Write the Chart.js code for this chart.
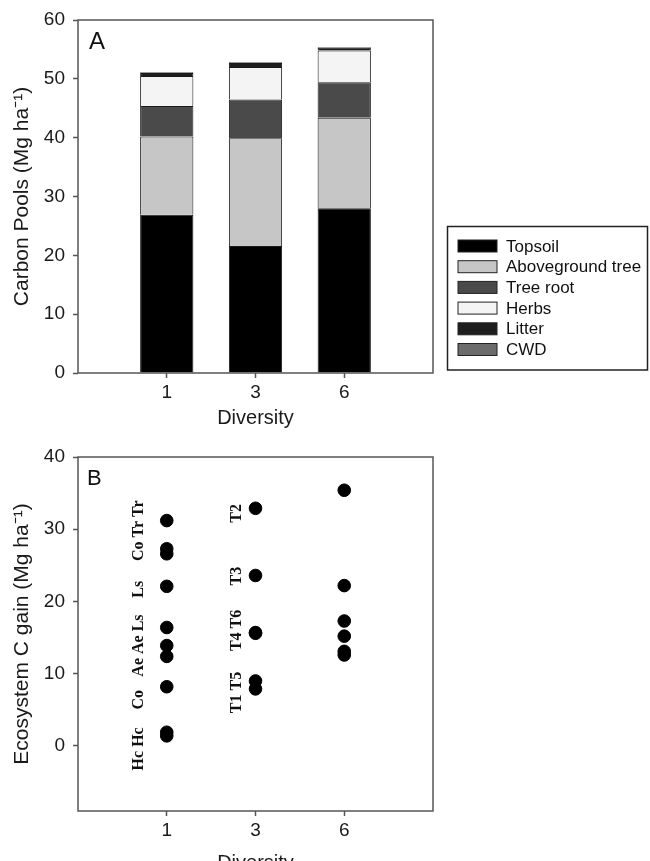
<!DOCTYPE html>
<html>
<head>
<meta charset="utf-8">
<script src="https://cdn.jsdelivr.net/npm/chart.js@4.4.1/dist/chart.umd.min.js"></script>
<style>
  html, body { margin: 0; padding: 0; background: #fff; overflow: hidden; }
  #wrap { position: relative; width: 650px; height: 861px; }
  canvas { position: absolute; left: 0; }
  #poolCanvas { top: 0; }
  #gainCanvas { top: 430px; }
</style>
</head>
<body>
<div id="wrap">
  <canvas id="poolCanvas" width="650" height="430"></canvas>
  <canvas id="gainCanvas" width="650" height="445"></canvas>
</div>
<script>
// diversity levels (x categories)
var diversity = ['1', '3', '6'];

// panel A: carbon pools, Mg/ha, stacked per diversity level
var poolNames = ['Topsoil', 'Aboveground tree', 'Tree root', 'Herbs', 'Litter', 'CWD'];
var topsoil = [26.9, 21.6, 28.0];
var aboveTree = [13.3, 18.3, 15.4];
var treeRoot = [5.2, 6.6, 6.0];
var herbs = [5.1, 5.5, 5.4];
var litter = [0.5, 0.7, 0.5];
var cwd = [0.1, 0.1, 0.1];
var poolTicks = [0, 10, 20, 30, 40, 50, 60];

// panel B: ecosystem C gain per plot
var gainDiv1 = [31.2, 27.3, 26.6, 22.1, 16.4, 13.9, 12.4, 8.2, 1.9, 1.4];
var gainDiv3 = [32.9, 23.6, 15.7, 15.6, 9.0, 7.9];
var gainDiv6 = [35.4, 22.2, 17.3, 15.2, 13.1, 12.6];
var gainTicks = [0, 10, 20, 30, 40];

// species / treatment labels next to the points
var plotLabels = ['Hc Hc', 'Co', 'Ae Ae Ls', 'Ls', 'Co Tr Tr', 'T1 T5', 'T4 T6', 'T3', 'T2'];
var plotLabelDiv = ['1', '1', '1', '1', '1', '3', '3', '3', '3'];
var plotLabelY = [-0.4, 6.4, 13.9, 21.7, 29.8, 7.4, 16.0, 23.5, 32.2];

var AXIS = '#555';
var SANS = '"Liberation Sans", Arial, sans-serif';

function toPoints(vals, i) {
    return vals.map(function (v) { return { x: i + 1, y: v }; });
}

function xScaleOpts(h, titlePad) {
    return {
        type: 'linear',
        min: 0,
        max: 4,
        offset: false,
        afterBuildTicks: function (s) {
            s.ticks = diversity.map(function (d, i) { return { value: i + 1 }; });
        },
        afterFit: function (s) { s.height = h; },
        ticks: {
            callback: function (v) { return diversity[v - 1]; },
            color: '#1a1a1a',
            font: { family: SANS, size: 19 },
            padding: 3,
            maxRotation: 0
        },
        grid: { offset: false, drawOnChartArea: false, drawTicks: true, tickLength: 5, tickColor: AXIS, tickWidth: 1.5 },
        border: { display: false },
        title: {
            display: true,
            text: 'Diversity',
            color: '#1a1a1a',
            font: { family: SANS, size: 20 },
            padding: { top: titlePad, bottom: 0 }
        }
    };
}

function yScaleOpts(min, max, tickVals, title) {
    return {
        min: min,
        max: max,
        afterBuildTicks: function (s) {
            s.ticks = tickVals.map(function (v) { return { value: v }; });
        },
        afterFit: function (s) { s.width = 78; },
        ticks: {
            color: '#1a1a1a',
            font: { family: SANS, size: 19 },
            padding: 8
        },
        grid: { drawOnChartArea: false, drawTicks: true, tickLength: 5, tickColor: AXIS, tickWidth: 1.5 },
        border: { display: false },
        title: {
            display: true,
            text: title,
            color: '#1a1a1a',
            font: { family: SANS, size: 21 },
            padding: { top: 10, bottom: 0 }
        }
    };
}

// box around plot area + panel letter
function framePlugin(letter, size, dx, dy) {
    return {
        id: 'frame' + letter,
        afterDraw: function (chart) {
            var ctx = chart.ctx, a = chart.chartArea;
            ctx.save();
            ctx.strokeStyle = AXIS;
            ctx.lineWidth = 1.5;
            ctx.strokeRect(a.left, a.top, a.right - a.left, a.bottom - a.top);
            ctx.fillStyle = '#111';
            ctx.font = size + 'px ' + SANS;
            ctx.textBaseline = 'alphabetic';
            ctx.fillText(letter, a.left + dx, a.top + dy);
            ctx.restore();
        }
    };
}

// legend in a box to the right of panel A
var boxLegend = {
    id: 'boxLegend',
    afterDraw: function (chart) {
        var ctx = chart.ctx;
        ctx.save();
        ctx.strokeStyle = '#222';
        ctx.lineWidth = 1.5;
        ctx.strokeRect(447.5, 226.5, 200, 143.5);
        ctx.font = '17px ' + SANS;
        ctx.textBaseline = 'middle';
        chart.data.datasets.forEach(function (ds, i) {
            var cy = 246 + i * 20.7;
            ctx.fillStyle = ds.backgroundColor;
            ctx.fillRect(458, cy - 6, 39, 12);
            ctx.strokeStyle = '#222';
            ctx.lineWidth = 1;
            ctx.strokeRect(458, cy - 6, 39, 12);
            ctx.fillStyle = '#111';
            ctx.fillText(ds.label, 506, cy + 1);
        });
        ctx.restore();
    }
};

// rotated plot codes left of the points
var codeLabels = {
    id: 'codeLabels',
    afterDatasetsDraw: function (chart) {
        var ctx = chart.ctx, xs = chart.scales.x, ys = chart.scales.y;
        var shift = { '1': 28, '3': 19 };
        ctx.save();
        ctx.fillStyle = '#111';
        ctx.font = 'bold 16px "Liberation Serif", "Times New Roman", serif';
        ctx.textAlign = 'center';
        ctx.textBaseline = 'middle';
        plotLabels.forEach(function (t, i) {
            var d = plotLabelDiv[i];
            var px = xs.getPixelForValue(diversity.indexOf(d) + 1) - shift[d];
            var py = ys.getPixelForValue(plotLabelY[i]);
            ctx.save();
            ctx.translate(px, py);
            ctx.rotate(-Math.PI / 2);
            ctx.fillText(t, 0, 0);
            ctx.restore();
        });
        ctx.restore();
    }
};

var poolSeries = [topsoil, aboveTree, treeRoot, herbs, litter, cwd];
var poolColors = ['#000000', '#c6c6c6', '#4a4a4a', '#f4f4f4', '#1e1e1e', '#6c6c6c'];

new Chart(document.getElementById('poolCanvas').getContext('2d'), {
    type: 'bar',
    data: {
        datasets: poolSeries.map(function (vals, k) {
            return {
                label: poolNames[k],
                data: vals.map(function (v, i) { return { x: i + 1, y: v }; }),
                backgroundColor: poolColors[k],
                borderColor: '#1a1a1a',
                borderWidth: 1,
                barPercentage: 0.6,
                categoryPercentage: 1.0
            };
        })
    },
    options: {
        responsive: false,
        animation: false,
        devicePixelRatio: 1,
        layout: { padding: { left: 0, top: 20, right: 217, bottom: 0 } },
        plugins: { legend: { display: false }, tooltip: { enabled: false } },
        scales: {
            x: Object.assign(xScaleOpts(57, 2), { stacked: true }),
            y: Object.assign(yScaleOpts(0, 60, poolTicks, 'Carbon Pools (Mg ha\u207B\u00B9)'), { stacked: true })
        }
    },
    plugins: [framePlugin('A', 24, 11, 29), boxLegend]
});

new Chart(document.getElementById('gainCanvas').getContext('2d'), {
    type: 'scatter',
    data: {
        datasets: [gainDiv1, gainDiv3, gainDiv6].map(function (vals, i) {
            return {
                label: 'Diversity ' + diversity[i],
                data: toPoints(vals, i),
                backgroundColor: '#000',
                borderColor: '#000',
                pointRadius: 6.3,
                pointHoverRadius: 6.3
            };
        })
    },
    options: {
        responsive: false,
        animation: false,
        devicePixelRatio: 1,
        layout: { padding: { left: 0, top: 27, right: 217, bottom: 0 } },
        plugins: { legend: { display: false }, tooltip: { enabled: false } },
        scales: {
            x: xScaleOpts(64, 6),
            y: yScaleOpts(-9, 40, gainTicks, 'Ecosystem C gain (Mg ha\u207B\u00B9)')
        }
    },
    plugins: [framePlugin('B', 22, 9, 28), codeLabels]
});
</script>
</body>
</html>
